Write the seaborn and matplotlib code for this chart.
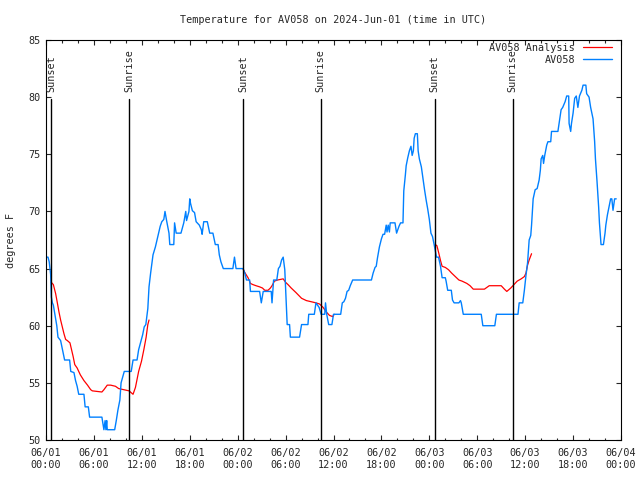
import pandas as pd
import matplotlib
matplotlib.use('Agg')
import matplotlib.pyplot as plt
import matplotlib.dates as mdates
import seaborn as sns

# observed temps (hours after 2024-06-01 00:00 UTC, deg F)
obs_hours = [0.0, 0.25, 0.4, 0.5, 0.58, 0.67, 0.8, 0.92, 1.2, 1.35, 1.5, 1.83, 2.04, 2.33, 2.96,
             3.1, 3.5, 3.7, 3.9, 4.1, 4.75, 4.9, 5.3, 5.46, 7.0, 7.25, 7.4, 7.5, 7.6, 7.67, 8.6,
             8.8, 9.0, 9.25, 9.4, 9.6, 9.8, 10.67, 10.9, 11.4, 11.6, 11.9, 12.1, 12.3, 12.5, 12.75,
             12.9, 13.1, 13.4, 13.7, 14.1, 14.3, 14.5, 14.75, 14.9, 15.1, 15.4, 15.5, 16.0, 16.1,
             16.3, 16.9, 17.25, 17.5, 17.6, 17.9, 18.0, 18.1, 18.33, 18.6, 18.8, 19.2, 19.45, 19.55,
             19.75, 20.2, 20.5, 20.9, 21.2, 21.55, 21.7, 21.9, 22.2, 23.4, 23.6, 23.8, 24.67, 24.9,
             25.1, 25.5, 25.6, 26.75, 26.96, 27.2, 28.2, 28.3, 28.5, 28.9, 29.1, 29.3, 29.5, 29.7,
             29.9, 30.1, 30.2, 30.5, 30.6, 31.75, 32.0, 32.8, 32.9, 33.6, 33.8, 34.0, 34.2, 34.45,
             34.9, 35.0, 35.15, 35.4, 35.8, 36.0, 36.9, 37.1, 37.3, 37.5, 37.7, 37.9, 38.1, 38.4,
             40.75, 40.96, 41.2, 41.35, 41.5, 41.75, 42.0, 42.2, 42.4, 42.6, 42.7, 42.85, 43.0, 43.1,
             43.7, 43.9, 44.2, 44.4, 44.7, 44.8, 45.0, 45.1, 45.3, 45.5, 45.7, 45.85, 46.0, 46.1,
             46.25, 46.5, 46.6, 46.75, 47.0, 47.2, 47.4, 47.6, 47.8, 48.0, 48.2, 48.4, 48.6, 48.9,
             49.15, 49.4, 49.6, 50.0, 50.1, 50.3, 50.75, 50.9, 51.1, 51.7, 51.9, 52.0, 52.25, 54.5,
             54.7, 56.2, 56.4, 59.1, 59.25, 59.7, 59.9, 60.1, 60.3, 60.5, 60.7, 60.8, 61.0, 61.25,
             61.5, 61.75, 61.9, 62.0, 62.2, 62.3, 62.45, 62.7, 62.85, 63.2, 63.3, 64.1, 64.25, 64.5,
             64.7, 65.0, 65.2, 65.45, 65.5, 65.7, 65.8, 66.0, 66.2, 66.4, 66.6, 66.8, 67.1, 67.25,
             67.6, 67.7, 68.0, 68.2, 68.5, 68.7, 68.8, 69.0, 69.2, 69.3, 69.5, 69.8, 70.0, 70.1,
             70.3, 70.5, 70.7, 70.85, 71.0, 71.2, 71.4]
obs_temp = [66.0, 66.0, 65.6, 65.0, 64.5, 62.5, 62.0, 61.8, 60.6, 60.0, 59.0, 58.7, 58.0, 57.0, 57.0,
            56.0, 55.9, 55.2, 54.7, 54.0, 54.0, 52.9, 52.9, 52.0, 52.0, 50.9, 51.7, 50.9, 51.7, 50.9, 50.9,
            51.7, 52.6, 53.5, 55.0, 55.5, 56.0, 56.0, 57.0, 57.0, 57.9, 58.7, 59.2, 59.9, 60.1, 61.5,
            63.4, 64.6, 66.2, 66.9, 68.1, 68.7, 69.1, 69.3, 70.0, 69.2, 68.1, 67.1, 67.1, 69.0,
            68.1, 68.1, 69.0, 70.0, 69.2, 70.0, 71.1, 70.7, 70.06, 69.9, 69.1, 68.8, 68.4, 68.0,
            69.1, 69.1, 68.1, 68.1, 67.1, 67.1, 66.2, 65.6, 65.0, 65.0, 66.0, 65.0, 65.0, 64.6,
            64.0, 64.0, 63.0, 63.0, 62.0, 63.0, 63.0, 62.0, 64.0, 64.0, 65.0, 65.2, 65.75, 66.0,
            64.9, 61.7, 60.1, 60.1, 59.0, 59.0, 60.1, 60.1, 61.0, 61.0, 62.0, 61.8, 61.6, 61.0,
            61.0, 62.0, 61.0, 60.1, 60.1, 61.0, 61.0, 62.0, 62.1, 62.4, 63.0, 63.1, 63.5, 64.0,
            64.0, 64.6, 65.1, 65.2, 65.9, 66.9, 67.6, 68.0, 68.0, 68.8, 68.2, 68.8, 68.2, 69.0,
            69.0, 68.1, 68.7, 69.0, 69.0, 71.8, 73.2, 74.0, 74.7, 75.3, 75.7, 74.9, 75.3, 76.4,
            76.8, 76.8, 75.3, 74.6, 73.9, 72.9, 71.9, 71.0, 70.2, 69.3, 68.1, 67.8, 67.1, 66.0,
            66.0, 65.2, 64.2, 64.2, 63.9, 63.1, 63.1, 62.25, 62.0, 62.0, 62.2, 62.0, 61.0, 61.0,
            60.0, 60.0, 61.0, 61.0, 62.0, 62.0, 63.1, 64.4, 65.5, 67.5, 67.9, 68.8, 71.1, 71.9,
            72.0, 72.75, 73.6, 74.6, 74.9, 74.2, 74.9, 75.8, 76.1, 76.1, 77.0, 77.0, 77.7, 78.9,
            79.1, 79.6, 80.1, 80.1, 77.7, 77.0, 77.7, 78.6, 79.9, 80.1, 79.1, 80.1, 80.6, 81.05,
            81.05, 80.3, 80.0, 79.1, 78.1, 76.1, 74.6, 72.6, 70.4, 69.0, 67.1, 67.1, 68.1, 68.8,
            69.7, 70.4, 71.1, 71.1, 70.1, 71.1, 71.1]

# analysis, one run per night
ana1_hours = [0.65, 0.92, 1.21, 1.42, 1.625, 1.83, 2.04, 2.25, 2.46, 2.67, 3.0, 3.2, 3.4, 3.6, 3.9,
              4.3, 4.75, 5.2, 5.6, 5.8, 6.4, 7.0, 7.25, 7.67, 8.1, 8.7, 9.1, 9.75, 10.4, 10.9,
              11.2, 11.6, 11.96, 12.25, 12.54, 12.75, 12.9]
ana1_temp = [63.8, 63.6, 62.8, 62.0, 61.2, 60.5, 59.9, 59.3, 58.8, 58.7, 58.5, 57.9, 57.3, 56.6, 56.3,
             55.7, 55.2, 54.8, 54.4, 54.3, 54.25, 54.2, 54.4, 54.8, 54.8, 54.7, 54.5, 54.4, 54.3, 54.0,
             54.6, 56.0, 56.9, 57.9, 59.0, 60.1, 60.5]
ana2_hours = [24.67, 24.85, 25.3, 25.6, 25.9, 26.3, 26.75, 27.1, 27.4, 27.8, 28.1, 28.3, 28.6, 29.0,
              29.7, 30.0, 30.3, 30.7, 31.3, 32.0, 32.6, 33.2, 33.8, 34.25, 34.7, 35.1, 35.5, 35.9, 36.1]
ana2_temp = [65.0, 64.7, 64.2, 63.7, 63.6, 63.5, 63.4, 63.3, 63.1, 63.1, 63.3, 63.5, 63.9, 64.0,
             64.1, 63.8, 63.6, 63.3, 62.9, 62.4, 62.2, 62.1, 62.0, 61.9, 61.6, 61.2, 60.9, 60.8, 61.0]
ana3_hours = [48.75, 48.95, 49.2, 49.4, 49.6, 50.0, 50.4, 50.8, 51.25, 51.7, 52.1, 52.7, 53.1, 53.5,
              54.25, 54.9, 55.5, 57.0, 57.4, 57.7, 58.2, 58.6, 59.0, 59.5, 59.9, 60.1, 60.3, 60.5, 60.8]
ana3_temp = [67.1, 67.0, 66.3, 65.7, 65.2, 65.1, 64.9, 64.6, 64.3, 64.0, 63.9, 63.7, 63.5, 63.2,
             63.2, 63.2, 63.5, 63.5, 63.2, 63.0, 63.3, 63.6, 63.9, 64.1, 64.3, 64.6, 65.3, 65.75, 66.3]

sunset_times = ['2024-06-01 00:40', '2024-06-02 00:40', '2024-06-03 00:40']
sunrise_times = ['2024-06-01 10:25', '2024-06-02 10:25', '2024-06-03 10:25']

start = pd.Timestamp('2024-06-01 00:00')
obs = pd.DataFrame({'time': start + pd.to_timedelta(obs_hours, unit='h'), 'temp': obs_temp})
nights = [(ana1_hours, ana1_temp), (ana2_hours, ana2_temp), (ana3_hours, ana3_temp)]
ana = pd.concat([pd.DataFrame({'time': start + pd.to_timedelta(h, unit='h'), 'temp': t, 'night': i})
                 for i, (h, t) in enumerate(nights)], ignore_index=True)

sns.set_style('ticks')
plt.rcParams['font.family'] = ['DejaVu Sans Mono']
fs = 7.3

fig = plt.figure(figsize=(6.4, 4.8), dpi=100)
ax = fig.add_axes([46/640, 40/480, 575/640, 400/480])

sns.lineplot(data=ana, x='time', y='temp', units='night', estimator=None, color='#ff0000',
             lw=0.9, label='AV058 Analysis', ax=ax)
sns.lineplot(data=obs, x='time', y='temp', color='#0080ff', lw=1.0, label='AV058', ax=ax)

for t in sunset_times:
    ax.axvline(pd.Timestamp(t), ymax=0.8525, color='black', lw=1.0)
    ax.text(pd.Timestamp(t), 0.871, 'Sunset', rotation=90, ha='center', va='bottom',
            fontsize=fs, transform=ax.get_xaxis_transform())
for t in sunrise_times:
    ax.axvline(pd.Timestamp(t), ymax=0.8525, color='black', lw=1.0)
    ax.text(pd.Timestamp(t), 0.871, 'Sunrise', rotation=90, ha='center', va='bottom',
            fontsize=fs, transform=ax.get_xaxis_transform())

ax.set_xlim(start, pd.Timestamp('2024-06-04 00:00'))
ax.set_ylim(50, 85)
ax.set_yticks(range(50, 86, 5))
ax.xaxis.set_major_locator(mdates.HourLocator(byhour=[0, 6, 12, 18]))
ax.xaxis.set_minor_locator(mdates.HourLocator(byhour=range(0, 24, 2)))
ax.xaxis.set_major_formatter(mdates.DateFormatter('%m/%d\n%H:%M'))
ax.tick_params(which='both', direction='in', top=True, right=True, width=0.8, labelsize=fs)
ax.tick_params(which='major', length=3.6)
ax.tick_params(which='minor', length=1.8)
ax.tick_params(axis='x', pad=6)
ax.tick_params(axis='y', pad=4)
for s in ax.spines.values():
    s.set_color('black')
    s.set_linewidth(0.8)

ax.set_xlabel('')
ax.set_ylabel('degrees F', fontsize=fs)
ax.yaxis.set_label_coords(-0.052, 0.5)
ax.text(0.5, 1.05, 'Temperature for AV058 on 2024-Jun-01 (time in UTC)', ha='center', va='center',
        fontsize=fs, transform=ax.transAxes)

handles, labels = ax.get_legend_handles_labels()
uniq = dict(zip(labels, handles))
ax.legend(list(uniq.values()), list(uniq.keys()), loc='upper right', bbox_to_anchor=(0.9835, 0.993),
          frameon=False, markerfirst=False, fontsize=fs, handlelength=2.8, handletextpad=0.8,
          labelspacing=0.2, borderpad=0, borderaxespad=0)

fig.savefig('out.png', dpi=100)
